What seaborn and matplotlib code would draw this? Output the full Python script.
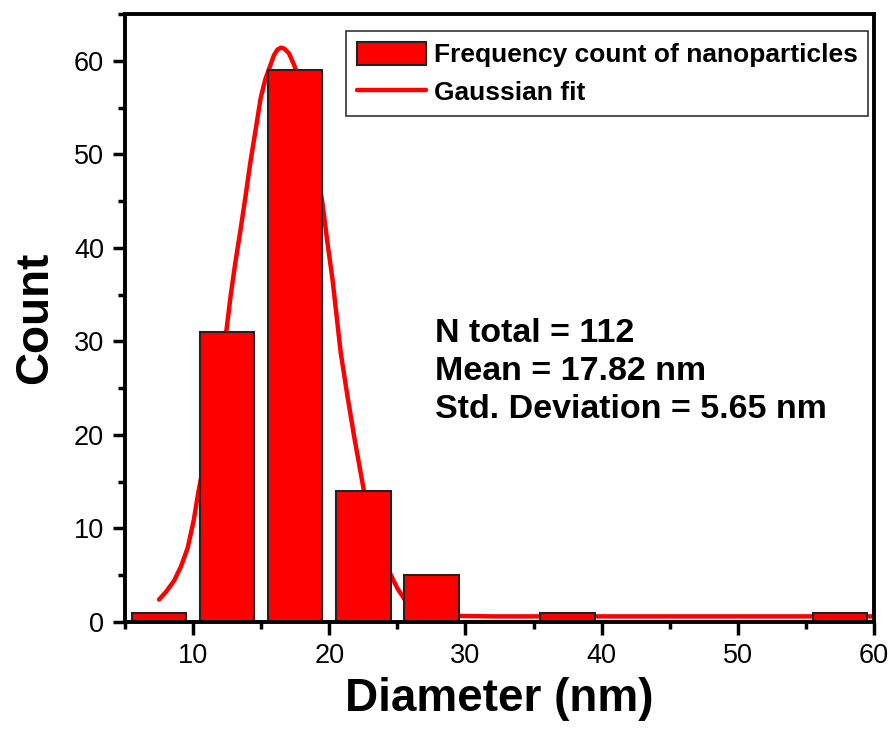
import numpy as np
import seaborn as sns
import matplotlib.pyplot as plt
from matplotlib.ticker import MultipleLocator

# histogram data (bin centres, counts)
bin_edges = [5, 10, 15, 20, 25, 30, 35, 40, 45, 50, 55, 60]
bin_centers = [7.5, 12.5, 17.5, 22.5, 27.5, 32.5, 37.5, 42.5, 47.5, 52.5, 57.5]
counts = [1, 31, 59, 14, 5, 0, 1, 0, 0, 0, 1]

# gaussian fit curve
fit_x = [7.5, 8.0, 8.6, 9.1, 9.6, 10.05, 10.4, 11.0, 11.5, 12.0, 12.45, 12.75,
         13.1, 13.48, 13.85, 14.2, 14.59, 14.96, 15.3, 15.57, 15.94, 16.2, 16.45,
         16.7, 17.04, 17.46, 18.0, 18.5, 19.0, 19.5, 19.87, 20.24, 20.6, 20.85,
         21.34, 21.83, 22.2, 22.56, 23.0, 23.5, 24.0, 24.53, 25.0, 25.5, 26.0,
         27.0, 28.0, 29.5, 32, 40, 50, 60]
fit_y = [2.4, 3.2, 4.4, 5.9, 7.9, 10.9, 14.0, 18.5, 22.5, 27.0, 31.2, 34.8,
         38.4, 41.9, 45.5, 49.1, 52.6, 56.0, 58.0, 59.1, 60.6, 61.2, 61.4,
         61.3, 60.8, 59.4, 57.0, 53.5, 49.2, 44.8, 40.5, 36.6, 31.9, 28.7,
         24.1, 19.8, 16.8, 13.9, 11.0, 8.5, 6.6, 5.0, 3.6, 2.5, 1.8,
         1.1, 0.8, 0.65, 0.6, 0.6, 0.6, 0.6]

stats_text = 'N total = 112\nMean = 17.82 nm\nStd. Deviation = 5.65 nm'

sns.set_style('ticks')
plt.rcParams['font.family'] = ['Liberation Sans', 'DejaVu Sans']
plt.rcParams['text.color'] = 'black'
plt.rcParams['axes.labelcolor'] = 'black'
plt.rcParams['xtick.color'] = 'black'
plt.rcParams['ytick.color'] = 'black'

fig = plt.figure(figsize=(8.95, 7.3), dpi=100)
ax = fig.add_axes([125/895, 1-622/730, 749/895, 608/730])

sns.lineplot(x=fit_x, y=fit_y, color='red', lw=3.2, ax=ax, zorder=1,
             label='Gaussian fit')
sns.histplot(x=bin_centers, weights=counts, bins=bin_edges, shrink=0.8,
             color='red', alpha=1, edgecolor='#222222', linewidth=1.5,
             ax=ax, zorder=2)

ax.set_xlim(5, 60)
ax.set_ylim(0, 65)
ax.xaxis.set_major_locator(MultipleLocator(10))
ax.xaxis.set_minor_locator(MultipleLocator(5))
ax.yaxis.set_major_locator(MultipleLocator(10))
ax.yaxis.set_minor_locator(MultipleLocator(5))
ax.tick_params(which='major', length=9, width=2.5, labelsize=19.5, direction='out', pad=6)
ax.tick_params(which='minor', length=5, width=2.5, direction='out')
for s in ax.spines.values():
    s.set_linewidth(2.8)
    s.set_color('black')
    s.set_visible(True)

ax.set_xlabel('Diameter (nm)', fontsize=33, fontweight='bold', labelpad=6)
ax.set_ylabel('Count', fontsize=33, fontweight='bold', labelpad=12)

ax.text(0.414, 0.50, stats_text, transform=ax.transAxes, fontsize=24.5,
        fontweight='bold', va='top', ha='left', linespacing=1.3)

bar_handle = ax.patches[0]
line_handle = ax.lines[0]
leg = ax.legend([bar_handle, line_handle],
                ['Frequency count of nanoparticles', 'Gaussian fit'],
                loc='upper right', bbox_to_anchor=(0.992, 0.972), borderaxespad=0,
                fancybox=False, edgecolor='#333333', framealpha=1,
                prop={'size': 19, 'weight': 'bold'}, handlelength=2.6,
                handleheight=1.0, handletextpad=0.3, borderpad=0.4,
                labelspacing=0.45)
leg.get_frame().set_linewidth(1.2)

fig.savefig('out.png', dpi=100)
